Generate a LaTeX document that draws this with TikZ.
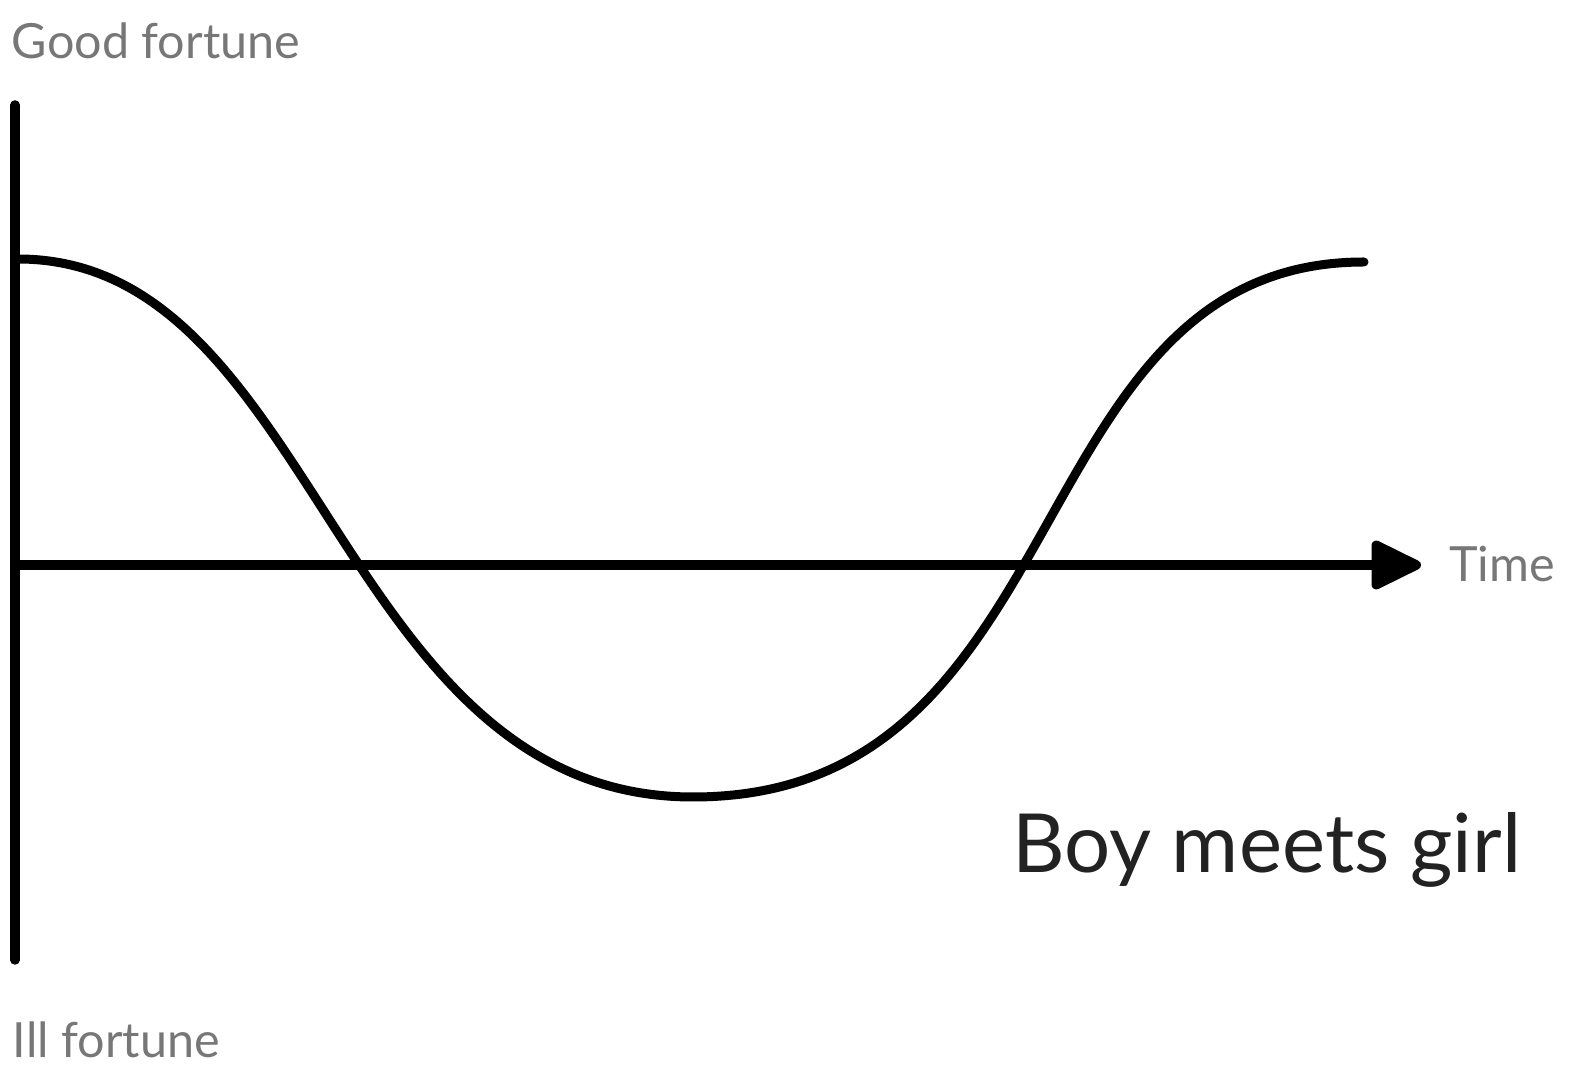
\documentclass[tikz,border=0pt]{standalone}
\usepackage{fontspec}
\setmainfont{Lato}
\usetikzlibrary{arrows.meta,positioning,calc}
\definecolor{fortunegray}{HTML}{777777}
\definecolor{titleblack}{HTML}{222222}
\tikzstyle{every node}=[inner sep=0pt, outer sep=0pt]
\tikzstyle{axis} = [draw, line width=0.95mm, line cap=round]
\tikzstyle{story} = [draw, line width=0.9mm, line cap=round]
\tikzstyle{plotlabel} = [anchor=base west, text=fortunegray, font=\fontsize{13.8}{17}\selectfont]
\tikzstyle{plottitle} = [anchor=base west, text=titleblack, font=\fontsize{23.2}{28}\selectfont]

\begin{document}
\begin{tikzpicture}[>={Triangle[length=5.6mm,width=5.2mm,round]},line join=round]
    \useasboundingbox (0,0) rectangle (15.69,10.85);

    \coordinate (topNode) at (0.15,9.80);
    \coordinate (bottomNode) at (0.15,1.25);
    \coordinate (originNode) at (0.15,5.20);
    \coordinate (timeNode) at (14.21,5.20);
    \coordinate (startNode) at (0.18,8.26);
    \coordinate (lowNode) at (6.93,2.88);
    \coordinate (endNode) at (13.64,8.23);

    \node[plotlabel] (good) at (0.12,10.26) {Good fortune};
    \node[plotlabel] (ill) at (0.13,0.27) {Ill fortune};
    \node[plotlabel] (time) at (14.49,5.03) {Time};
    \node[plottitle] (boy) at (10.12,2.12) {Boy meets girl};

    % axes
    \draw[axis] (topNode) -- (bottomNode);
    \draw[axis,->] (originNode) -- (timeNode);

    % fortune curve
    \draw[story] (startNode) .. controls (3.18,8.26) and (3.38,2.88) .. (lowNode)
        .. controls (10.83,2.88) and (10.15,8.23) .. (endNode);
\end{tikzpicture}
\end{document}
